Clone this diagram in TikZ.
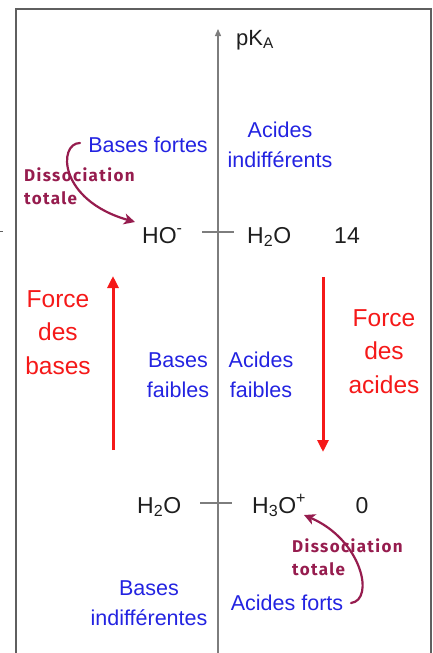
\documentclass[tikz,border=0pt]{standalone}
\usepackage{fontspec}
\setmainfont{Liberation Sans}
\newfontfamily\dissfont{Fira Sans}[LetterSpace=8]
\usetikzlibrary{arrows.meta}
\definecolor{blu}{RGB}{35,35,225}
\definecolor{rd}{RGB}{245,25,25}
\definecolor{maroon}{RGB}{150,28,78}
\definecolor{ink}{RGB}{30,30,30}
\definecolor{axgray}{RGB}{125,125,125}
\definecolor{framegray}{RGB}{95,95,95}
\begin{document}
\begin{tikzpicture}[x=1pt,y=-1pt,
  bluetxt/.style={text=blu,font=\fontsize{21.5}{29.5}\selectfont,align=center,anchor=base,inner sep=0pt},
  redtxt/.style={text=rd,font=\fontsize{24.5}{33.5}\selectfont,align=center,anchor=base,inner sep=0pt},
  chem/.style={text=ink,font=\fontsize{23}{26}\selectfont,anchor=base west,inner sep=0pt},
  disstxt/.style={text=maroon,font=\dissfont\bfseries\fontsize{17}{22.5}\selectfont,inner sep=0pt},
  forcearrow/.style={draw=rd,line width=3pt,-{Triangle[length=12pt,width=11pt]}},
  dissarrow/.style={draw=maroon,line width=2.2pt,line cap=round,-{Stealth[length=11pt,width=11pt,inset=3pt]}},
  tick/.style={draw=axgray,line width=1.3pt}]
\useasboundingbox (0,0) rectangle (432,653);
% frame
\draw[framegray,line width=1.5pt] (16,660) -- (16,9) -- (431,9) -- (431,660);
\draw[framegray,line width=1pt] (0,231) -- (3,231);
% axis
\coordinate (axb) at (218,660);
\coordinate (axt) at (218,29);
\draw[axgray,line width=1.3pt,-{Triangle[length=7pt,width=6pt]}] (axb) -- (axt);
\node[text=ink,font=\fontsize{22}{26}\selectfont,anchor=base west,inner sep=0pt] (pka) at (236,45) {pK\textsubscript{A}};
% ticks
\coordinate (t1a) at (202,232); \coordinate (t1b) at (234,232);
\coordinate (t0a) at (200,503); \coordinate (t0b) at (232,503);
\draw[tick] (t1a) -- (t1b);
\draw[tick] (t0a) -- (t0b);
% top labels
\node[bluetxt] (bf) at (148,152) {Bases fortes};
\node[bluetxt] (ai) at (280,167) {Acides\\indifférents};
\node[disstxt,align=left,anchor=base west] (d1) at (24,204) {Dissociation\\totale};
% pK 14 line
\node[chem] (ho) at (142,243) {HO\textsuperscript{-}};
\node[chem] (h2o1) at (247,243) {H\textsubscript{2}O};
\node[chem,anchor=base] (n14) at (347,243) {14};
% force arrows
\coordinate (la) at (113,450); \coordinate (lb) at (113,276);
\coordinate (ra) at (323,277); \coordinate (rb) at (323,452);
\draw[forcearrow] (la) -- (lb);
\draw[forcearrow] (ra) -- (rb);
\node[redtxt] (fb) at (58,374) {Force\\des\\bases};
\node[redtxt] (fa) at (384,393) {Force\\des\\acides};
\node[bluetxt] (bfa) at (178,397) {Bases\\faibles};
\node[bluetxt] (afa) at (261,397) {Acides\\faibles};
% pK 0 line
\node[chem] (h2o0) at (137,513) {H\textsubscript{2}O};
\node[chem] (h3o) at (252,513) {H\textsubscript{3}O\textsuperscript{+}};
\node[chem,anchor=base] (n0) at (362,513) {0};
\node[disstxt,align=left,anchor=base west] (d2) at (292,575) {Dissociation\\totale};
\node[bluetxt] (bi) at (149,625) {Bases\\indifférentes};
\node[bluetxt] (af) at (287,610) {Acides forts};
% dissociation arrows
\coordinate (s1) at (80,143);
\coordinate (e1) at (135,222);
\draw[dissarrow] (s1) .. controls (58,143) and (58,200) .. (e1);
\coordinate (s2) at (351,603);
\coordinate (e2) at (304,515);
\draw[dissarrow] (s2) .. controls (375,600) and (362,540) .. (e2);
\end{tikzpicture}
\end{document}
